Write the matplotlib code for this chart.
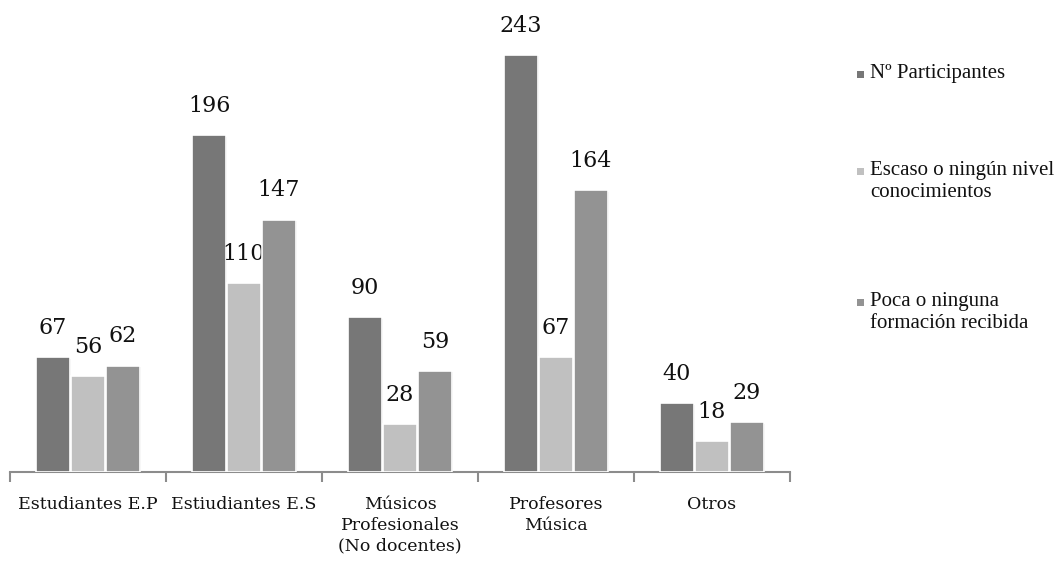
import matplotlib
matplotlib.use("Agg")
import matplotlib.pyplot as plt
import matplotlib.patheffects as pe
from matplotlib.patches import Rectangle
import numpy as np

# Data
categories = ["Estudiantes E.P", "Estiudiantes E.S", "Músicos\nProfesionales\n(No docentes)",
              "Profesores\nMúsica", "Otros"]
series_names = ["Nº Participantes", "Escaso o ningún nivel\nconocimientos",
                "Poca o ninguna\nformación recibida"]
participantes = [67, 196, 90, 243, 40]
escaso_nivel = [56, 110, 28, 67, 18]
poca_formacion = [62, 147, 59, 164, 29]

series = [participantes, escaso_nivel, poca_formacion]
colors = ["#777777", "#c0c0c0", "#939393"]

W, H = 1063, 561
fig = plt.figure(figsize=(W / 100, H / 100), dpi=100)
ax = fig.add_axes([10 / W, 89 / H, 780 / W, 462 / H])

x = np.arange(len(categories))
offset = 0.224
bar_w = 0.215
shadow = [pe.SimplePatchShadow(offset=(1.2, -1.2), shadow_rgbFace="#000000", alpha=0.18),
          pe.Normal()]

for i, (vals, c) in enumerate(zip(series, colors)):
    xs = x + (i - 1) * offset
    bars = ax.bar(xs, vals, width=bar_w, color=c, edgecolor="white", linewidth=1.2,
                  zorder=3, path_effects=shadow)
    for b, v in zip(bars, vals):
        ax.annotate(str(v), (b.get_x() + b.get_width() / 2, v), xytext=(0, 13),
                    textcoords="offset points", ha="center", va="bottom",
                    fontsize=16, family="DejaVu Serif", color="#111111")

ax.set_xlim(-0.5, len(categories) - 0.5)
ax.set_ylim(0, 269)

for s in ["top", "right", "left"]:
    ax.spines[s].set_visible(False)
ax.spines["bottom"].set_color("#8c8c8c")
ax.spines["bottom"].set_linewidth(1.5)
ax.set_yticks([])

ax.set_xticks(x)
ax.set_xticklabels(categories, fontsize=12.5, family="DejaVu Serif", color="#111111",
                   linespacing=1.3, va="top")
ax.tick_params(axis="x", which="major", length=0, pad=17)
ax.set_xticks(np.arange(len(categories) + 1) - 0.5, minor=True)
ax.tick_params(axis="x", which="minor", length=7, width=1.5, color="#8c8c8c")

# legend on the right (first-line centre of each entry, in pixels from top)
leg_y = [75, 172, 303]
for name, c, yy in zip(series_names, colors, leg_y):
    fig.patches.append(Rectangle((857 / W, 1 - (yy + 3) / H), 7 / W, 7 / H,
                                 transform=fig.transFigure,
                                 facecolor=c, edgecolor="none"))
    fig.text(870 / W, 1 - (yy - 11) / H, name, fontsize=15, family="Liberation Serif",
             va="top", ha="left", color="#111111", linespacing=1.2)

fig.savefig("out.png", dpi=100)
